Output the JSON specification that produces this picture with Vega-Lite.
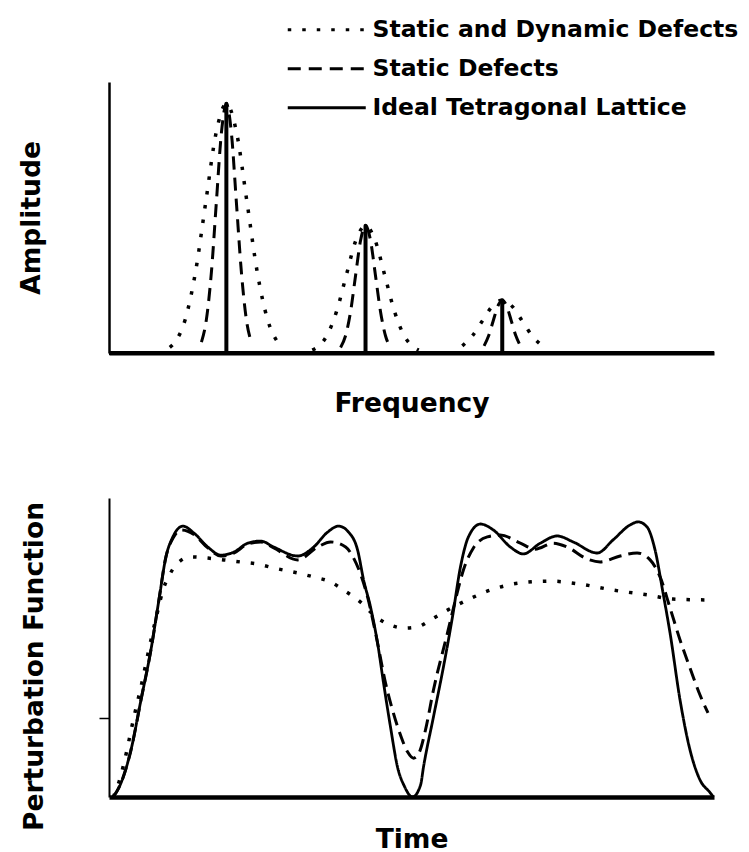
{
  "$schema": "https://vega.github.io/schema/vega-lite/v6.json",
  "background": "white",
  "padding": {"left": 18, "top": 18, "right": 10, "bottom": 4},
  "config": {
    "view": {"stroke": null},
    "font": "DejaVu Sans",
    "axis": {
      "grid": false,
      "labels": false,
      "ticks": false,
      "domainColor": "black",
      "titleFont": "DejaVu Sans",
      "titleFontWeight": "bold",
      "titleFontSize": 26.5,
      "titleColor": "black"
    }
  },
  "datasets": {
    "spectrum": [
      {"series": "Static and Dynamic Defects", "peak": 1, "frequency": 10.05, "amplitude": 2.1},
      {"series": "Static and Dynamic Defects", "peak": 1, "frequency": 10.9, "amplitude": 4.0},
      {"series": "Static and Dynamic Defects", "peak": 1, "frequency": 12.6, "amplitude": 12.4},
      {"series": "Static and Dynamic Defects", "peak": 1, "frequency": 14.3, "amplitude": 29.9},
      {"series": "Static and Dynamic Defects", "peak": 1, "frequency": 16.0, "amplitude": 55.8},
      {"series": "Static and Dynamic Defects", "peak": 1, "frequency": 17.7, "amplitude": 81.2},
      {"series": "Static and Dynamic Defects", "peak": 1, "frequency": 19.4, "amplitude": 92},
      {"series": "Static and Dynamic Defects", "peak": 1, "frequency": 21.1, "amplitude": 81.2},
      {"series": "Static and Dynamic Defects", "peak": 1, "frequency": 22.8, "amplitude": 55.8},
      {"series": "Static and Dynamic Defects", "peak": 1, "frequency": 24.5, "amplitude": 29.9},
      {"series": "Static and Dynamic Defects", "peak": 1, "frequency": 26.2, "amplitude": 12.4},
      {"series": "Static and Dynamic Defects", "peak": 1, "frequency": 27.9, "amplitude": 4.0},
      {"series": "Static and Dynamic Defects", "peak": 1, "frequency": 28.75, "amplitude": 2.1},
      {"series": "Static and Dynamic Defects", "peak": 2, "frequency": 33.6, "amplitude": 1.07},
      {"series": "Static and Dynamic Defects", "peak": 2, "frequency": 34.4, "amplitude": 2.06},
      {"series": "Static and Dynamic Defects", "peak": 2, "frequency": 36.0, "amplitude": 6.36},
      {"series": "Static and Dynamic Defects", "peak": 2, "frequency": 37.6, "amplitude": 15.26},
      {"series": "Static and Dynamic Defects", "peak": 2, "frequency": 39.2, "amplitude": 28.5},
      {"series": "Static and Dynamic Defects", "peak": 2, "frequency": 40.8, "amplitude": 41.5},
      {"series": "Static and Dynamic Defects", "peak": 2, "frequency": 42.4, "amplitude": 47},
      {"series": "Static and Dynamic Defects", "peak": 2, "frequency": 44.0, "amplitude": 41.5},
      {"series": "Static and Dynamic Defects", "peak": 2, "frequency": 45.6, "amplitude": 28.5},
      {"series": "Static and Dynamic Defects", "peak": 2, "frequency": 47.2, "amplitude": 15.26},
      {"series": "Static and Dynamic Defects", "peak": 2, "frequency": 48.8, "amplitude": 6.36},
      {"series": "Static and Dynamic Defects", "peak": 2, "frequency": 50.4, "amplitude": 2.06},
      {"series": "Static and Dynamic Defects", "peak": 2, "frequency": 51.2, "amplitude": 1.07},
      {"series": "Static and Dynamic Defects", "peak": 3, "frequency": 58.4, "amplitude": 2.64},
      {"series": "Static and Dynamic Defects", "peak": 3, "frequency": 60.05, "amplitude": 6.33},
      {"series": "Static and Dynamic Defects", "peak": 3, "frequency": 61.7, "amplitude": 11.83},
      {"series": "Static and Dynamic Defects", "peak": 3, "frequency": 63.35, "amplitude": 17.2},
      {"series": "Static and Dynamic Defects", "peak": 3, "frequency": 65.0, "amplitude": 19.5},
      {"series": "Static and Dynamic Defects", "peak": 3, "frequency": 66.65, "amplitude": 17.2},
      {"series": "Static and Dynamic Defects", "peak": 3, "frequency": 68.3, "amplitude": 11.83},
      {"series": "Static and Dynamic Defects", "peak": 3, "frequency": 69.95, "amplitude": 6.33},
      {"series": "Static and Dynamic Defects", "peak": 3, "frequency": 71.6, "amplitude": 2.64},
      {"series": "Static Defects", "peak": 1, "frequency": 15.28, "amplitude": 4.0},
      {"series": "Static Defects", "peak": 1, "frequency": 16.1, "amplitude": 12.4},
      {"series": "Static Defects", "peak": 1, "frequency": 16.93, "amplitude": 29.9},
      {"series": "Static Defects", "peak": 1, "frequency": 17.75, "amplitude": 55.8},
      {"series": "Static Defects", "peak": 1, "frequency": 18.58, "amplitude": 81.2},
      {"series": "Static Defects", "peak": 1, "frequency": 19.4, "amplitude": 92},
      {"series": "Static Defects", "peak": 1, "frequency": 20.23, "amplitude": 81.2},
      {"series": "Static Defects", "peak": 1, "frequency": 21.05, "amplitude": 55.8},
      {"series": "Static Defects", "peak": 1, "frequency": 21.88, "amplitude": 29.9},
      {"series": "Static Defects", "peak": 1, "frequency": 22.7, "amplitude": 12.4},
      {"series": "Static Defects", "peak": 1, "frequency": 23.53, "amplitude": 4.0},
      {"series": "Static Defects", "peak": 2, "frequency": 38.28, "amplitude": 2.06},
      {"series": "Static Defects", "peak": 2, "frequency": 39.1, "amplitude": 6.36},
      {"series": "Static Defects", "peak": 2, "frequency": 39.93, "amplitude": 15.26},
      {"series": "Static Defects", "peak": 2, "frequency": 40.75, "amplitude": 28.5},
      {"series": "Static Defects", "peak": 2, "frequency": 41.58, "amplitude": 41.5},
      {"series": "Static Defects", "peak": 2, "frequency": 42.4, "amplitude": 47},
      {"series": "Static Defects", "peak": 2, "frequency": 43.23, "amplitude": 41.5},
      {"series": "Static Defects", "peak": 2, "frequency": 44.05, "amplitude": 28.5},
      {"series": "Static Defects", "peak": 2, "frequency": 44.88, "amplitude": 15.26},
      {"series": "Static Defects", "peak": 2, "frequency": 45.7, "amplitude": 6.36},
      {"series": "Static Defects", "peak": 2, "frequency": 46.53, "amplitude": 2.06},
      {"series": "Static Defects", "peak": 3, "frequency": 62.0, "amplitude": 2.64},
      {"series": "Static Defects", "peak": 3, "frequency": 62.75, "amplitude": 6.33},
      {"series": "Static Defects", "peak": 3, "frequency": 63.5, "amplitude": 11.83},
      {"series": "Static Defects", "peak": 3, "frequency": 64.25, "amplitude": 17.2},
      {"series": "Static Defects", "peak": 3, "frequency": 65.0, "amplitude": 19.5},
      {"series": "Static Defects", "peak": 3, "frequency": 65.75, "amplitude": 17.2},
      {"series": "Static Defects", "peak": 3, "frequency": 66.5, "amplitude": 11.83},
      {"series": "Static Defects", "peak": 3, "frequency": 67.25, "amplitude": 6.33},
      {"series": "Static Defects", "peak": 3, "frequency": 68.0, "amplitude": 2.64},
      {"series": "Ideal Tetragonal Lattice", "step": 0, "frequency": 0, "amplitude": 0},
      {"series": "Ideal Tetragonal Lattice", "step": 1, "frequency": 19.4, "amplitude": 0},
      {"series": "Ideal Tetragonal Lattice", "step": 2, "frequency": 19.4, "amplitude": 92},
      {"series": "Ideal Tetragonal Lattice", "step": 3, "frequency": 19.4, "amplitude": 0},
      {"series": "Ideal Tetragonal Lattice", "step": 4, "frequency": 42.4, "amplitude": 0},
      {"series": "Ideal Tetragonal Lattice", "step": 5, "frequency": 42.4, "amplitude": 47},
      {"series": "Ideal Tetragonal Lattice", "step": 6, "frequency": 42.4, "amplitude": 0},
      {"series": "Ideal Tetragonal Lattice", "step": 7, "frequency": 65.0, "amplitude": 0},
      {"series": "Ideal Tetragonal Lattice", "step": 8, "frequency": 65.0, "amplitude": 19.5},
      {"series": "Ideal Tetragonal Lattice", "step": 9, "frequency": 65.0, "amplitude": 0},
      {"series": "Ideal Tetragonal Lattice", "step": 10, "frequency": 100, "amplitude": 0}
    ],
    "perturbation": [
      {"series": "Ideal Tetragonal Lattice", "time": 0.7, "value": 0},
      {"series": "Ideal Tetragonal Lattice", "time": 1.98, "value": 4.68},
      {"series": "Ideal Tetragonal Lattice", "time": 3.63, "value": 15.7},
      {"series": "Ideal Tetragonal Lattice", "time": 5.28, "value": 32.4},
      {"series": "Ideal Tetragonal Lattice", "time": 6.93, "value": 49.2},
      {"series": "Ideal Tetragonal Lattice", "time": 8.25, "value": 65.9},
      {"series": "Ideal Tetragonal Lattice", "time": 9.41, "value": 80.3},
      {"series": "Ideal Tetragonal Lattice", "time": 10.56, "value": 87.0},
      {"series": "Ideal Tetragonal Lattice", "time": 12.21, "value": 90.6},
      {"series": "Ideal Tetragonal Lattice", "time": 14.03, "value": 88.3},
      {"series": "Ideal Tetragonal Lattice", "time": 16.34, "value": 83.6},
      {"series": "Ideal Tetragonal Lattice", "time": 18.48, "value": 80.9},
      {"series": "Ideal Tetragonal Lattice", "time": 20.63, "value": 81.9},
      {"series": "Ideal Tetragonal Lattice", "time": 22.94, "value": 84.9},
      {"series": "Ideal Tetragonal Lattice", "time": 25.08, "value": 85.6},
      {"series": "Ideal Tetragonal Lattice", "time": 27.23, "value": 83.6},
      {"series": "Ideal Tetragonal Lattice", "time": 31.19, "value": 80.6},
      {"series": "Ideal Tetragonal Lattice", "time": 33.83, "value": 83.6},
      {"series": "Ideal Tetragonal Lattice", "time": 36.14, "value": 88.6},
      {"series": "Ideal Tetragonal Lattice", "time": 37.95, "value": 90.6},
      {"series": "Ideal Tetragonal Lattice", "time": 39.6, "value": 88.6},
      {"series": "Ideal Tetragonal Lattice", "time": 41.09, "value": 82.6},
      {"series": "Ideal Tetragonal Lattice", "time": 42.08, "value": 72.6},
      {"series": "Ideal Tetragonal Lattice", "time": 43.23, "value": 63.5},
      {"series": "Ideal Tetragonal Lattice", "time": 44.39, "value": 51.5},
      {"series": "Ideal Tetragonal Lattice", "time": 45.38, "value": 38.1},
      {"series": "Ideal Tetragonal Lattice", "time": 46.53, "value": 23.4},
      {"series": "Ideal Tetragonal Lattice", "time": 47.69, "value": 10.0},
      {"series": "Ideal Tetragonal Lattice", "time": 48.8, "value": 3.7},
      {"series": "Ideal Tetragonal Lattice", "time": 50.17, "value": 0},
      {"series": "Ideal Tetragonal Lattice", "time": 51.5, "value": 4.0},
      {"series": "Ideal Tetragonal Lattice", "time": 51.98, "value": 10.0},
      {"series": "Ideal Tetragonal Lattice", "time": 53.63, "value": 26.8},
      {"series": "Ideal Tetragonal Lattice", "time": 55.28, "value": 43.5},
      {"series": "Ideal Tetragonal Lattice", "time": 56.77, "value": 60.2},
      {"series": "Ideal Tetragonal Lattice", "time": 58.09, "value": 76.9},
      {"series": "Ideal Tetragonal Lattice", "time": 59.41, "value": 87.0},
      {"series": "Ideal Tetragonal Lattice", "time": 61.39, "value": 91.3},
      {"series": "Ideal Tetragonal Lattice", "time": 63.53, "value": 89.3},
      {"series": "Ideal Tetragonal Lattice", "time": 66.34, "value": 83.6},
      {"series": "Ideal Tetragonal Lattice", "time": 68.48, "value": 81.3},
      {"series": "Ideal Tetragonal Lattice", "time": 71.29, "value": 84.9},
      {"series": "Ideal Tetragonal Lattice", "time": 74.09, "value": 87.3},
      {"series": "Ideal Tetragonal Lattice", "time": 76.73, "value": 85.3},
      {"series": "Ideal Tetragonal Lattice", "time": 80.69, "value": 81.6},
      {"series": "Ideal Tetragonal Lattice", "time": 83.33, "value": 86.0},
      {"series": "Ideal Tetragonal Lattice", "time": 86.14, "value": 91.0},
      {"series": "Ideal Tetragonal Lattice", "time": 87.46, "value": 92.0},
      {"series": "Ideal Tetragonal Lattice", "time": 88.94, "value": 90.3},
      {"series": "Ideal Tetragonal Lattice", "time": 90.26, "value": 82.6},
      {"series": "Ideal Tetragonal Lattice", "time": 91.58, "value": 68.2},
      {"series": "Ideal Tetragonal Lattice", "time": 92.74, "value": 54.8},
      {"series": "Ideal Tetragonal Lattice", "time": 94.39, "value": 32.4},
      {"series": "Ideal Tetragonal Lattice", "time": 96.04, "value": 15.7},
      {"series": "Ideal Tetragonal Lattice", "time": 97.69, "value": 5.7},
      {"series": "Ideal Tetragonal Lattice", "time": 99.34, "value": 1.5},
      {"series": "Ideal Tetragonal Lattice", "time": 99.9, "value": 0},
      {"series": "Static Defects", "time": 0.7, "value": 0},
      {"series": "Static Defects", "time": 1.98, "value": 4.68},
      {"series": "Static Defects", "time": 3.63, "value": 15.7},
      {"series": "Static Defects", "time": 5.28, "value": 32.4},
      {"series": "Static Defects", "time": 6.93, "value": 49.2},
      {"series": "Static Defects", "time": 8.25, "value": 65.9},
      {"series": "Static Defects", "time": 9.41, "value": 80.3},
      {"series": "Static Defects", "time": 10.56, "value": 86.5},
      {"series": "Static Defects", "time": 12.0, "value": 89.3},
      {"series": "Static Defects", "time": 14.03, "value": 87.8},
      {"series": "Static Defects", "time": 16.34, "value": 83.3},
      {"series": "Static Defects", "time": 18.48, "value": 80.6},
      {"series": "Static Defects", "time": 20.63, "value": 81.6},
      {"series": "Static Defects", "time": 22.94, "value": 84.6},
      {"series": "Static Defects", "time": 25.08, "value": 85.3},
      {"series": "Static Defects", "time": 27.23, "value": 83.3},
      {"series": "Static Defects", "time": 31.19, "value": 79.3},
      {"series": "Static Defects", "time": 34.49, "value": 83.6},
      {"series": "Static Defects", "time": 36.63, "value": 85.3},
      {"series": "Static Defects", "time": 39.11, "value": 83.6},
      {"series": "Static Defects", "time": 40.43, "value": 79.9},
      {"series": "Static Defects", "time": 42.74, "value": 66.9},
      {"series": "Static Defects", "time": 44.39, "value": 51.5},
      {"series": "Static Defects", "time": 45.71, "value": 38.1},
      {"series": "Static Defects", "time": 46.86, "value": 29.1},
      {"series": "Static Defects", "time": 48.18, "value": 20.7},
      {"series": "Static Defects", "time": 49.34, "value": 15.1},
      {"series": "Static Defects", "time": 50.33, "value": 13.0},
      {"series": "Static Defects", "time": 51.32, "value": 15.1},
      {"series": "Static Defects", "time": 52.31, "value": 22.4},
      {"series": "Static Defects", "time": 53.63, "value": 35.8},
      {"series": "Static Defects", "time": 55.94, "value": 54.8},
      {"series": "Static Defects", "time": 57.26, "value": 65.9},
      {"series": "Static Defects", "time": 58.58, "value": 75.9},
      {"series": "Static Defects", "time": 60.23, "value": 83.3},
      {"series": "Static Defects", "time": 62.54, "value": 87.0},
      {"series": "Static Defects", "time": 64.69, "value": 87.6},
      {"series": "Static Defects", "time": 67.99, "value": 84.9},
      {"series": "Static Defects", "time": 70.46, "value": 82.9},
      {"series": "Static Defects", "time": 73.43, "value": 84.9},
      {"series": "Static Defects", "time": 75.74, "value": 83.6},
      {"series": "Static Defects", "time": 79.04, "value": 79.6},
      {"series": "Static Defects", "time": 81.19, "value": 78.6},
      {"series": "Static Defects", "time": 84.49, "value": 80.6},
      {"series": "Static Defects", "time": 87.29, "value": 81.6},
      {"series": "Static Defects", "time": 89.44, "value": 79.3},
      {"series": "Static Defects", "time": 91.09, "value": 73.6},
      {"series": "Static Defects", "time": 92.74, "value": 63.2},
      {"series": "Static Defects", "time": 94.39, "value": 52.5},
      {"series": "Static Defects", "time": 96.04, "value": 43.1},
      {"series": "Static Defects", "time": 97.69, "value": 34.1},
      {"series": "Static Defects", "time": 99.01, "value": 28.1},
      {"series": "Static and Dynamic Defects", "time": 0.7, "value": 0},
      {"series": "Static and Dynamic Defects", "time": 1.65, "value": 5.0},
      {"series": "Static and Dynamic Defects", "time": 2.48, "value": 11.4},
      {"series": "Static and Dynamic Defects", "time": 4.13, "value": 26.8},
      {"series": "Static and Dynamic Defects", "time": 5.28, "value": 36.8},
      {"series": "Static and Dynamic Defects", "time": 6.93, "value": 52.5},
      {"series": "Static and Dynamic Defects", "time": 8.09, "value": 62.5},
      {"series": "Static and Dynamic Defects", "time": 8.91, "value": 69.2},
      {"series": "Static and Dynamic Defects", "time": 9.74, "value": 73.2},
      {"series": "Static and Dynamic Defects", "time": 11.39, "value": 78.3},
      {"series": "Static and Dynamic Defects", "time": 13.53, "value": 80.3},
      {"series": "Static and Dynamic Defects", "time": 16.34, "value": 79.9},
      {"series": "Static and Dynamic Defects", "time": 18.98, "value": 79.3},
      {"series": "Static and Dynamic Defects", "time": 21.78, "value": 78.6},
      {"series": "Static and Dynamic Defects", "time": 24.59, "value": 77.9},
      {"series": "Static and Dynamic Defects", "time": 27.23, "value": 76.6},
      {"series": "Static and Dynamic Defects", "time": 31.19, "value": 74.9},
      {"series": "Static and Dynamic Defects", "time": 33.83, "value": 73.6},
      {"series": "Static and Dynamic Defects", "time": 36.63, "value": 71.9},
      {"series": "Static and Dynamic Defects", "time": 38.78, "value": 69.2},
      {"series": "Static and Dynamic Defects", "time": 41.58, "value": 65.2},
      {"series": "Static and Dynamic Defects", "time": 43.73, "value": 60.9},
      {"series": "Static and Dynamic Defects", "time": 46.53, "value": 57.5},
      {"series": "Static and Dynamic Defects", "time": 48.68, "value": 56.5},
      {"series": "Static and Dynamic Defects", "time": 50.99, "value": 56.9},
      {"series": "Static and Dynamic Defects", "time": 53.14, "value": 59.2},
      {"series": "Static and Dynamic Defects", "time": 55.94, "value": 62.5},
      {"series": "Static and Dynamic Defects", "time": 59.24, "value": 65.9},
      {"series": "Static and Dynamic Defects", "time": 63.04, "value": 69.2},
      {"series": "Static and Dynamic Defects", "time": 67.99, "value": 71.6},
      {"series": "Static and Dynamic Defects", "time": 72.94, "value": 72.2},
      {"series": "Static and Dynamic Defects", "time": 77.89, "value": 71.2},
      {"series": "Static and Dynamic Defects", "time": 83.33, "value": 69.2},
      {"series": "Static and Dynamic Defects", "time": 88.94, "value": 67.6},
      {"series": "Static and Dynamic Defects", "time": 93.23, "value": 66.2},
      {"series": "Static and Dynamic Defects", "time": 99.34, "value": 65.9}
    ]
  },
  "spacing": 145,
  "bounds": "flush",
  "resolve": {"scale": {"strokeDash": "independent"}, "legend": {"strokeDash": "independent"}},
  "vconcat": [
    {
      "width": 605,
      "height": 271,
      "data": {"name": "spectrum"},
      "encoding": {
        "x": {"field": "frequency", "type": "quantitative", "scale": {"domain": [0, 100], "nice": false},
              "axis": {"title": "Frequency", "titlePadding": 37, "domainWidth": 4}},
        "y": {"field": "amplitude", "type": "quantitative", "scale": {"domain": [0, 100], "nice": false},
              "axis": {"title": "Amplitude", "titlePadding": 64, "domainWidth": 2.5}},
        "strokeDash": {
          "field": "series", "type": "nominal",
          "scale": {"domain": ["Static and Dynamic Defects", "Static Defects", "Ideal Tetragonal Lattice"],
                    "range": [[3.5, 11], [13, 8], [1, 0]]},
          "legend": {
            "orient": "none", "legendX": 241, "legendY": -64, "title": null, "padding": 0,
            "symbolType": "M-37,0H2", "symbolSize": 16, "symbolStrokeWidth": 3,
            "symbolStrokeColor": "black", "symbolFillColor": "transparent",
            "labelFont": "DejaVu Sans", "labelFontWeight": "bold", "labelFontSize": 23.5,
            "labelColor": "black", "labelLimit": 0, "labelOffset": -1, "rowPadding": 14
          }
        }
      },
      "layer": [
        {
          "transform": [{"filter": "datum.series === 'Static and Dynamic Defects'"}],
          "mark": {"type": "line", "interpolate": "monotone", "strokeWidth": 3.5, "color": "black"},
          "encoding": {"detail": {"field": "peak", "type": "nominal"}}
        },
        {
          "transform": [{"filter": "datum.series === 'Static Defects'"}],
          "mark": {"type": "line", "interpolate": "monotone", "strokeWidth": 3, "color": "black"},
          "encoding": {"detail": {"field": "peak", "type": "nominal"}}
        },
        {
          "transform": [{"filter": "datum.series === 'Ideal Tetragonal Lattice'"}],
          "mark": {"type": "line", "strokeWidth": 4, "color": "black", "strokeJoin": "round"},
          "encoding": {"order": {"field": "step", "type": "quantitative"}}
        }
      ]
    },
    {
      "width": 605,
      "height": 299,
      "data": {"name": "perturbation"},
      "encoding": {
        "x": {"field": "time", "type": "quantitative", "scale": {"domain": [0, 100], "nice": false},
              "axis": {"title": "Time", "titlePadding": 29, "domainWidth": 4.5}},
        "y": {"field": "value", "type": "quantitative", "scale": {"domain": [0, 100], "nice": false},
              "axis": {"title": "Perturbation Function", "titlePadding": 50, "domainWidth": 2,
                       "ticks": true, "values": [26.4], "tickSize": 10, "tickWidth": 1.5,
                       "tickColor": "black", "titleY": 168}},
        "strokeDash": {
          "field": "series", "type": "nominal",
          "scale": {"domain": ["Static and Dynamic Defects", "Static Defects", "Ideal Tetragonal Lattice"],
                    "range": [[3.5, 11], [13, 7], [1, 0]]},
          "legend": null
        }
      },
      "layer": [
        {
          "transform": [{"filter": "datum.series === 'Static and Dynamic Defects'"}],
          "mark": {"type": "line", "interpolate": "monotone", "strokeWidth": 3.5, "color": "black"}
        },
        {
          "transform": [{"filter": "datum.series === 'Static Defects'"}],
          "mark": {"type": "line", "interpolate": "monotone", "strokeWidth": 3, "color": "black"}
        },
        {
          "transform": [{"filter": "datum.series === 'Ideal Tetragonal Lattice'"}],
          "mark": {"type": "line", "interpolate": "monotone", "strokeWidth": 2.8, "color": "black"}
        }
      ]
    }
  ]
}
